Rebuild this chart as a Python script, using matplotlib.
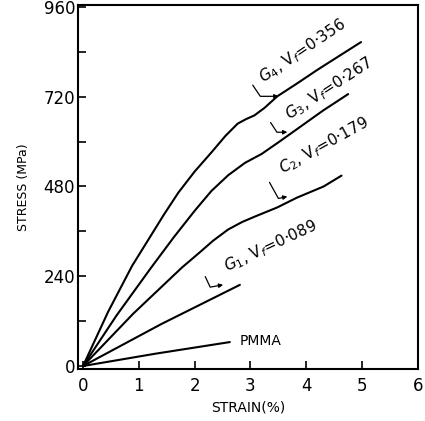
import matplotlib
matplotlib.use("Agg")
import matplotlib.pyplot as plt

# Data (strain %, stress MPa)
g4_x = [0, 0.45, 0.88, 1.18, 1.45, 1.71, 2.00, 2.30, 2.55, 2.77, 2.92, 3.07, 3.25, 3.48, 3.83, 4.20, 4.60, 4.98]
g4_y = [0, 145, 268, 340, 405, 464, 520, 571, 615, 648, 660, 670, 690, 721, 755, 792, 830, 866]
g3_x = [0, 0.60, 1.22, 1.63, 2.00, 2.30, 2.60, 2.90, 3.20, 3.50, 3.83, 4.30, 4.75]
g3_y = [0, 135, 263, 345, 415, 468, 510, 543, 567, 598, 633, 683, 727]
g2_x = [0, 0.90, 1.77, 2.10, 2.33, 2.60, 2.85, 3.07, 3.48, 3.83, 4.31, 4.63]
g2_y = [0, 140, 263, 305, 335, 365, 385, 399, 424, 450, 480, 509]
g1_x = [0, 1.40, 2.81]
g1_y = [0, 112, 217]
pmma_x = [0, 1.30, 2.63]
pmma_y = [0, 33, 64]

x_ticks = [0, 1, 2, 3, 4, 5, 6]
y_ticks = [0, 240, 480, 720, 960]
y_minor = [120, 360, 600, 840]

labels = {
    "G4": r"$G_4$, V$_f$=0·356",
    "G3": r"$G_3$, V$_f$=0·267",
    "G2": r"$C_2$, V$_f$=0·179",
    "G1": r"$G_1$, V$_f$=0·089",
}

fig = plt.figure(figsize=(4.25, 4.21), dpi=100)
ax = fig.add_axes([0.1835, 0.1235, 0.800, 0.8645])

for xs, ys in [(g4_x, g4_y), (g3_x, g3_y), (g2_x, g2_y), (g1_x, g1_y), (pmma_x, pmma_y)]:
    ax.plot(xs, ys, color="black", lw=1.5, solid_capstyle="round", solid_joinstyle="round")

ax.set_xlim(-0.09, 6.0)
ax.set_ylim(-8, 965)
ax.set_xticks(x_ticks)
ax.set_yticks(y_ticks)
ax.set_yticks(y_minor, minor=True)
ax.tick_params(axis="both", which="both", direction="in", labelsize=12, width=1.2)
ax.tick_params(axis="both", which="major", length=6)
ax.tick_params(axis="y", which="minor", length=6)
ax.tick_params(axis="y", pad=2)
ax.tick_params(axis="x", pad=6)
for s in ax.spines.values():
    s.set_linewidth(1.5)

ax.set_xlabel("STRAIN(%)", fontsize=10, labelpad=4)
ax.set_ylabel("STRESS (MPa)", fontsize=9, labelpad=10)

# annotations: (key, text anchor, rotation, bracket top, arrow tip, arrow angle)
ann = [
    ("G4", (3.18, 767), 34, (3.04, 751), (3.50, 721), 0),
    ("G3", (3.66, 668), 33, (3.36, 651), (3.66, 625), 0),
    ("G2", (3.53, 525), 29, (3.34, 491), (3.66, 453), 12),
    ("G1", (2.54, 263), 25, (2.19, 239), (2.51, 217), 10),
]
for key, tpos, rot, top, tip, ang in ann:
    ax.text(tpos[0], tpos[1], labels[key], rotation=rot, rotation_mode="anchor",
            ha="left", va="center", fontsize=11)
    ax.annotate("", xy=tip, xytext=top,
                arrowprops=dict(arrowstyle="-|>", lw=0.9, color="black",
                                mutation_scale=6,
                                connectionstyle=f"angle,angleA={rot-90},angleB={ang},rad=0",
                                shrinkA=0, shrinkB=0))

ax.text(2.81, 66, "PMMA", ha="left", va="center", fontsize=10)

fig.savefig("out.png", dpi=100)
